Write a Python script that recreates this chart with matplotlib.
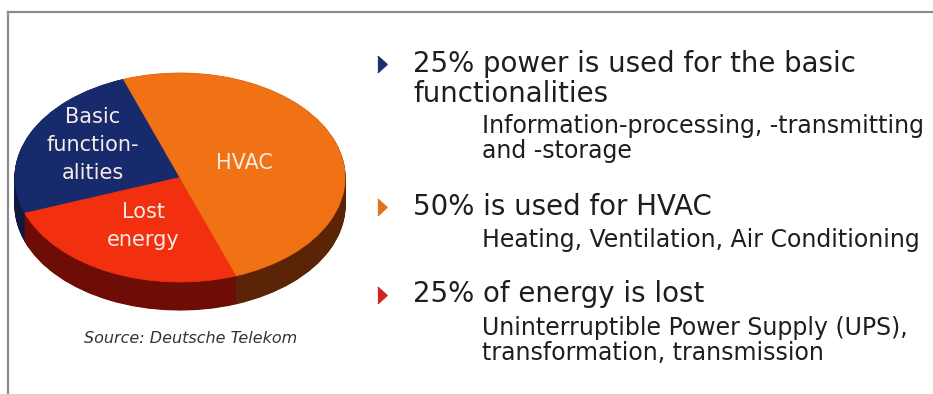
import matplotlib
matplotlib.use("Agg")
import numpy as np
from matplotlib import pyplot as plt

plt.rcParams['font.family'] = ['DejaVu Sans']

# pie data (counter-clockwise from the top-left edge)
labels = ["Basic\nfunction-\nalities", "Lost\nenergy", "HVAC"]
shares = [25, 25, 50]
top_colors = ["#172a6b", "#f2300f", "#f07214"]
side_colors = ["#0e1840", "#6e0c06", "#5c2406"]

# bullet text
headlines = [["25% power is used for the basic", "functionalities"],
             ["50% is used for HVAC"],
             ["25% of energy is lost"]]
details = [["Information-processing, -transmitting", "and -storage"],
           ["Heating, Ventilation, Air Conditioning"],
           ["Uninterruptible Power Supply (UPS),", "transformation, transmission"]]
bullet_colors = ["#1c2f70", "#e0731e", "#d02424"]
source = "Source: Deutsche Telekom"

W, H = 933, 394
fig = plt.figure(figsize=(W / 100, H / 100), dpi=100)

# background axes in pixel coordinates
bg = fig.add_axes([0, 0, 1, 1])
bg.set_xlim(0, W)
bg.set_ylim(H, 0)
bg.axis("off")
bg.plot([8, W], [12, 12], color="#8c8c8c", lw=1.6)
bg.plot([8, 8], [12, H], color="#8c8c8c", lw=1.6)

# pie axes: ellipse cap 15..345 x 73..282 px, depth 28 px
depth = 28 / 104.5
left, right, top, bottom = 15, 345, 73, 310
pax = fig.add_axes([left / W, 1 - bottom / H, (right - left) / W, (bottom - top) / H])
for d in np.linspace(depth, 0.005, 40):
    wedges, _ = pax.pie(shares, colors=side_colors, startangle=110,
                        counterclock=True, center=(0, -d), radius=1,
                        wedgeprops=dict(linewidth=0.8))
    for w in wedges:
        w.set_edgecolor(w.get_facecolor())
wedges, _ = pax.pie(shares, colors=top_colors, startangle=110,
                    counterclock=True, radius=1,
                    wedgeprops=dict(linewidth=0.6))
for w in wedges:
    w.set_edgecolor(w.get_facecolor())
pax.set_aspect("auto")
pax.set_xlim(-1, 1)
pax.set_ylim(-1 - depth, 1)
pax.axis("off")

# slice labels
label_pos = [(-0.53, 0.31), (-0.22, -0.46), (0.39, 0.14)]
for lab, (lx, ly) in zip(labels, label_pos):
    pax.text(lx, ly, lab, ha="center", va="center", color="#f7ebe4",
             fontsize=15, linespacing=1.5)

bg.text(191, 343, source, ha="center", va="baseline", style="italic",
        fontsize=11.5, color="#333333")

# bullets on the right
head_base = [72, 215, 302]
detail_base = [133, 247, 335]
tri_y = [64, 207, 295]
for i in range(3):
    bg.plot(382, tri_y[i], marker=[(-0.55, -1), (0.55, 0), (-0.55, 1)],
            ms=12, color=bullet_colors[i], mec=bullet_colors[i])
    for j, line in enumerate(headlines[i]):
        bg.text(413, head_base[i] + 30 * j, line, va="baseline",
                fontsize=19.9, color="#1e1e1e")
    for j, line in enumerate(details[i]):
        bg.text(482, detail_base[i] + 25 * j, line, va="baseline",
                fontsize=17, color="#1e1e1e")

fig.savefig("out.png", dpi=100)
